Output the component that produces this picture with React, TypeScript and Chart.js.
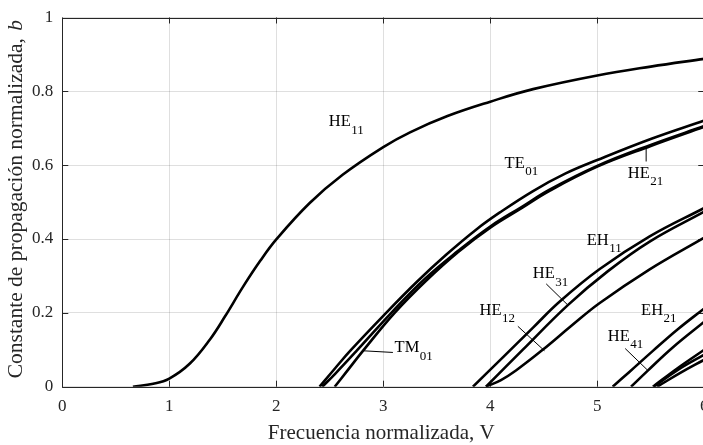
import { useEffect, useRef } from "react";
import { Chart, registerables } from "chart.js";

Chart.register(...registerables);

const SERIF = "'Liberation Serif', 'DejaVu Serif', serif";
const AXIS_COLOR = "#262626";
const GRID_COLOR = "rgba(38,38,38,0.15)";

const CANVAS_W = 720;
const CANVAS_H = 445;

// Axis ranges and tick labels
const X_MIN = 0;
const X_MAX = 6;
const X_STEP = 1;
const Y_MIN = 0;
const Y_MAX = 1;
const Y_STEP = 0.2;

const X_TITLE = "Frecuencia normalizada, V";
const Y_TITLE = "Constante de propagación normalizada, ";
const Y_TITLE_VAR = "b";

// Normalized frequency V and normalized propagation constant b for each guided mode
const HE11_V = [0.66, 0.85, 1.0, 1.19, 1.38, 1.52, 1.69, 1.85, 2.0, 2.31, 2.62, 3.0, 3.25, 3.6, 4.0, 4.4, 5.0, 5.5, 6.0];
const HE11_B = [0, 0.008, 0.022, 0.062, 0.128, 0.19, 0.271, 0.341, 0.399, 0.497, 0.574, 0.649, 0.689, 0.733, 0.772, 0.806, 0.843, 0.867, 0.888];

const TE01_V = [2.405, 2.55, 2.69, 3.0, 3.31, 3.59, 3.87, 4.09, 4.4, 4.7, 5.0, 5.5, 6.0];
const TE01_B = [0, 0.05, 0.097, 0.192, 0.283, 0.358, 0.426, 0.472, 0.53, 0.577, 0.614, 0.671, 0.721];

const HE21_V = [2.43, 2.55, 2.75, 3.075, 3.38, 3.7, 4.0, 4.3, 4.55, 5.0, 5.5, 6.0];
const HE21_B = [0, 0.035, 0.097, 0.2, 0.29, 0.368, 0.434, 0.488, 0.533, 0.598, 0.655, 0.706];

const TM01_V = [2.546, 2.65, 2.81, 3.106, 3.4, 3.7, 4.0, 4.3, 4.55, 5.0, 5.5, 6.0];
const TM01_B = [0, 0.038, 0.097, 0.2, 0.287, 0.365, 0.431, 0.485, 0.53, 0.596, 0.652, 0.704];

const EH11_V = [3.838, 4.12, 4.4, 4.647, 5.02, 5.49, 6.0];
const EH11_B = [0, 0.08, 0.16, 0.23, 0.318, 0.407, 0.484];

const HE31_V = [3.96, 4.3, 4.725, 5.1, 5.49, 6.0];
const HE31_B = [0, 0.099, 0.221, 0.313, 0.393, 0.474];

const HE12_V = [3.96, 4.1, 4.24, 4.49, 4.75, 5.02, 5.49, 6.0];
const HE12_B = [0, 0.018, 0.044, 0.1, 0.163, 0.226, 0.318, 0.404];

const EH21_V = [5.144, 5.3, 5.52, 5.75, 6.0];
const EH21_B = [0, 0.04, 0.097, 0.155, 0.212];

const HE41_V = [5.316, 5.47, 5.7, 6.0];
const HE41_B = [0, 0.043, 0.105, 0.176];

const TE02_V = [5.52, 5.75, 6.0];
const TE02_B = [0, 0.05, 0.1];

const TM02_V = [5.53, 5.75, 6.0];
const TM02_B = [0, 0.045, 0.087];

const HE22_V = [5.56, 5.78, 6.0];
const HE22_B = [0, 0.038, 0.073];

const MODE_V = [HE11_V, TE01_V, HE21_V, TM01_V, EH11_V, HE31_V, HE12_V, EH21_V, HE41_V, TE02_V, TM02_V, HE22_V];
const MODE_B = [HE11_B, TE01_B, HE21_B, TM01_B, EH11_B, HE31_B, HE12_B, EH21_B, HE41_B, TE02_B, TM02_B, HE22_B];

// Mode names with subscripts, anchored at (V, b) of the text baseline start
const LABEL_NAME = ["HE", "TE", "HE", "TM", "EH", "HE", "HE", "EH", "HE"];
const LABEL_SUB = ["11", "01", "21", "01", "11", "31", "12", "21", "41"];
const LABEL_V = [2.49, 4.134, 5.285, 3.106, 4.902, 4.398, 3.9, 5.41, 5.098];
const LABEL_B = [0.7056, 0.5926, 0.566, 0.0928, 0.3846, 0.2936, 0.1947, 0.1947, 0.1239];

// Leader lines from a label to its curve
const LEADER_V0 = [5.457, 2.81, 4.523, 4.258, 5.261];
const LEADER_B0 = [0.6456, 0.0973, 0.2785, 0.1636, 0.1034];
const LEADER_V1 = [5.457, 3.09, 4.725, 4.507, 5.472];
const LEADER_B1 = [0.61, 0.0928, 0.2212, 0.0973, 0.0443];

const framePlugin = {
  id: "frameBox",
  beforeDatasetsDraw(chart: any) {
    const { ctx, chartArea, scales } = chart;
    const { left, right, top, bottom } = chartArea;
    const tick = 6;
    ctx.save();
    ctx.strokeStyle = AXIS_COLOR;
    ctx.lineWidth = 1;
    ctx.beginPath();
    ctx.rect(Math.round(left) + 0.5, Math.round(top) + 0.5, Math.round(right) - Math.round(left), Math.round(bottom) - Math.round(top));
    for (let v = X_MIN; v <= X_MAX + 1e-9; v += X_STEP) {
      const px = Math.round(scales.x.getPixelForValue(v)) + 0.5;
      ctx.moveTo(px, bottom);
      ctx.lineTo(px, bottom - tick);
      ctx.moveTo(px, top);
      ctx.lineTo(px, top + tick);
    }
    for (let v = Y_MIN; v <= Y_MAX + 1e-9; v += Y_STEP) {
      const py = Math.round(scales.y.getPixelForValue(v)) + 0.5;
      ctx.moveTo(left, py);
      ctx.lineTo(left + tick, py);
      ctx.moveTo(right, py);
      ctx.lineTo(right - tick, py);
    }
    ctx.stroke();
    ctx.restore();
  },
};

const labelPlugin = {
  id: "modeLabels",
  afterDatasetsDraw(chart: any) {
    const { ctx, scales } = chart;
    const xs = scales.x;
    const ys = scales.y;
    ctx.save();
    ctx.strokeStyle = "#000";
    ctx.lineWidth = 1;
    ctx.beginPath();
    for (let i = 0; i < LEADER_V0.length; i++) {
      ctx.moveTo(xs.getPixelForValue(LEADER_V0[i]), ys.getPixelForValue(LEADER_B0[i]));
      ctx.lineTo(xs.getPixelForValue(LEADER_V1[i]), ys.getPixelForValue(LEADER_B1[i]));
    }
    ctx.stroke();

    ctx.fillStyle = "#000";
    ctx.textBaseline = "alphabetic";
    ctx.textAlign = "left";
    for (let i = 0; i < LABEL_NAME.length; i++) {
      const px = xs.getPixelForValue(LABEL_V[i]);
      const py = ys.getPixelForValue(LABEL_B[i]);
      ctx.font = `16.5px ${SERIF}`;
      ctx.fillText(LABEL_NAME[i], px, py);
      const w = ctx.measureText(LABEL_NAME[i]).width;
      ctx.font = `13px ${SERIF}`;
      ctx.fillText(LABEL_SUB[i], px + w + 0.5, py + 7.5);
    }
    ctx.restore();
  },
};

const titlePlugin = {
  id: "axisTitles",
  afterDraw(chart: any) {
    const { ctx, chartArea } = chart;
    ctx.save();
    ctx.fillStyle = AXIS_COLOR;
    ctx.textBaseline = "alphabetic";

    ctx.font = `21px ${SERIF}`;
    ctx.textAlign = "center";
    ctx.fillText(X_TITLE, (chartArea.left + chartArea.right) / 2 - 2, 439);

    ctx.translate(22, (chartArea.top + chartArea.bottom) / 2 - 2);
    ctx.rotate(-Math.PI / 2);
    ctx.textAlign = "left";
    ctx.font = `21.5px ${SERIF}`;
    const w1 = ctx.measureText(Y_TITLE).width;
    ctx.font = `italic 21.5px ${SERIF}`;
    const w2 = ctx.measureText(Y_TITLE_VAR).width;
    const x0 = -(w1 + w2) / 2;
    ctx.font = `21.5px ${SERIF}`;
    ctx.fillText(Y_TITLE, x0, 0);
    ctx.font = `italic 21.5px ${SERIF}`;
    ctx.fillText(Y_TITLE_VAR, x0 + w1 + 2, 0);
    ctx.restore();
  },
};

export default function App() {
  const canvasRef = useRef<HTMLCanvasElement | null>(null);

  useEffect(() => {
    const canvas = canvasRef.current;
    if (!canvas) return;

    const datasets = MODE_V.map((vs, i) => ({
      data: vs.map((v, j) => ({ x: v, y: MODE_B[i][j] })),
      borderColor: "#000",
      borderWidth: 2.6,
      pointRadius: 0,
      fill: false,
      tension: 0.4,
    }));

    const chart = new Chart(canvas, {
      type: "line",
      data: { datasets },
      options: {
        animation: false,
        responsive: false,
        devicePixelRatio: 1,
        layout: { padding: { left: 0, top: 9.3, right: CANVAS_W - 705.3, bottom: 0 } },
        plugins: { legend: { display: false }, tooltip: { enabled: false } },
        scales: {
          x: {
            type: "linear",
            min: X_MIN,
            max: X_MAX,
            border: { display: false },
            grid: { color: GRID_COLOR, lineWidth: 1, drawTicks: false },
            ticks: {
              stepSize: X_STEP,
              padding: 11.5,
              color: AXIS_COLOR,
              font: { family: SERIF, size: 17, lineHeight: 1 },
              maxRotation: 0,
              callback: (v: any) => String(Math.round(Number(v))),
            },
            afterFit: (scale: any) => {
              scale.height = CANVAS_H - 386.7;
            },
          },
          y: {
            type: "linear",
            min: Y_MIN,
            max: Y_MAX,
            border: { display: false },
            grid: { color: GRID_COLOR, lineWidth: 1, drawTicks: false },
            ticks: {
              stepSize: Y_STEP,
              padding: 9,
              color: AXIS_COLOR,
              font: { family: SERIF, size: 17, lineHeight: 1 },
              callback: (v: any) => String(Math.round(Number(v) * 10) / 10),
            },
            afterFit: (scale: any) => {
              scale.width = 62.3;
            },
          },
        },
      },
      plugins: [framePlugin, labelPlugin, titlePlugin],
    });

    return () => chart.destroy();
  }, []);

  return (
    <div style={{ position: "fixed", left: 0, top: 0, width: 703, height: CANVAS_H, overflow: "hidden", background: "#fff" }}>
      <canvas ref={canvasRef} width={CANVAS_W} height={CANVAS_H} style={{ display: "block" }} />
    </div>
  );
}
